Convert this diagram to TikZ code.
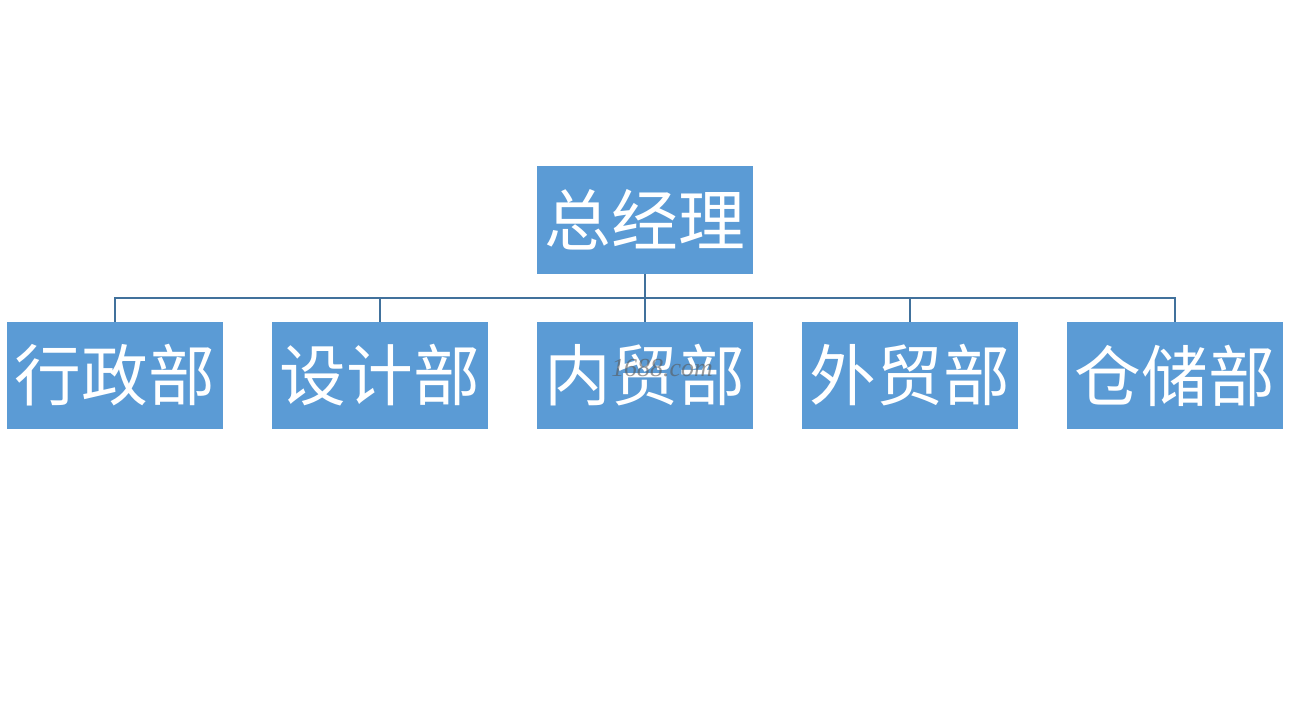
\documentclass[tikz,border=0pt]{standalone}
\usepackage{fontspec}
\newfontfamily\cjk{Noto Sans CJK SC}
\setmainfont{Liberation Serif}
\definecolor{boxfill}{HTML}{5B9BD5}
\definecolor{linecol}{HTML}{41719C}
\begin{document}
\begin{tikzpicture}[x=1bp,y=-1bp,
  orgbox/.style={fill=boxfill, draw=none, minimum width=216bp, minimum height=107bp, inner sep=0pt,
    text=white, font=\cjk\fontsize{67}{67}\selectfont},
  link/.style={draw=linecol, line width=1.5bp}]
\useasboundingbox (0,0) rectangle (1291,727);
\fill[white] (0,0) rectangle (1291,727);
\node[orgbox] (gm) at (645,220) {总经理};
\node[orgbox] (d1) at (115,375.5) {行政部};
\node[orgbox] (d2) at (380,375.5) {设计部};
\node[orgbox] (d3) at (645,375.5) {内贸部};
\node[orgbox] (d4) at (910,375.5) {外贸部};
\node[orgbox] (d5) at (1175,375.5) {仓储部};
\node[text=gray!70!black, opacity=0.6, font=\itshape\fontsize{26}{26}\selectfont] (wm) at (662,368) {1688.com};
\coordinate (bus) at (645,298);
\draw[link] (gm.south) -- (bus);
\draw[link] (d1.north) |- (bus) -| (d5.north);
\draw[link] (d2.north) -- (d2.north |- bus);
\draw[link] (d3.north) -- (bus);
\draw[link] (d4.north) -- (d4.north |- bus);
\end{tikzpicture}
\end{document}
